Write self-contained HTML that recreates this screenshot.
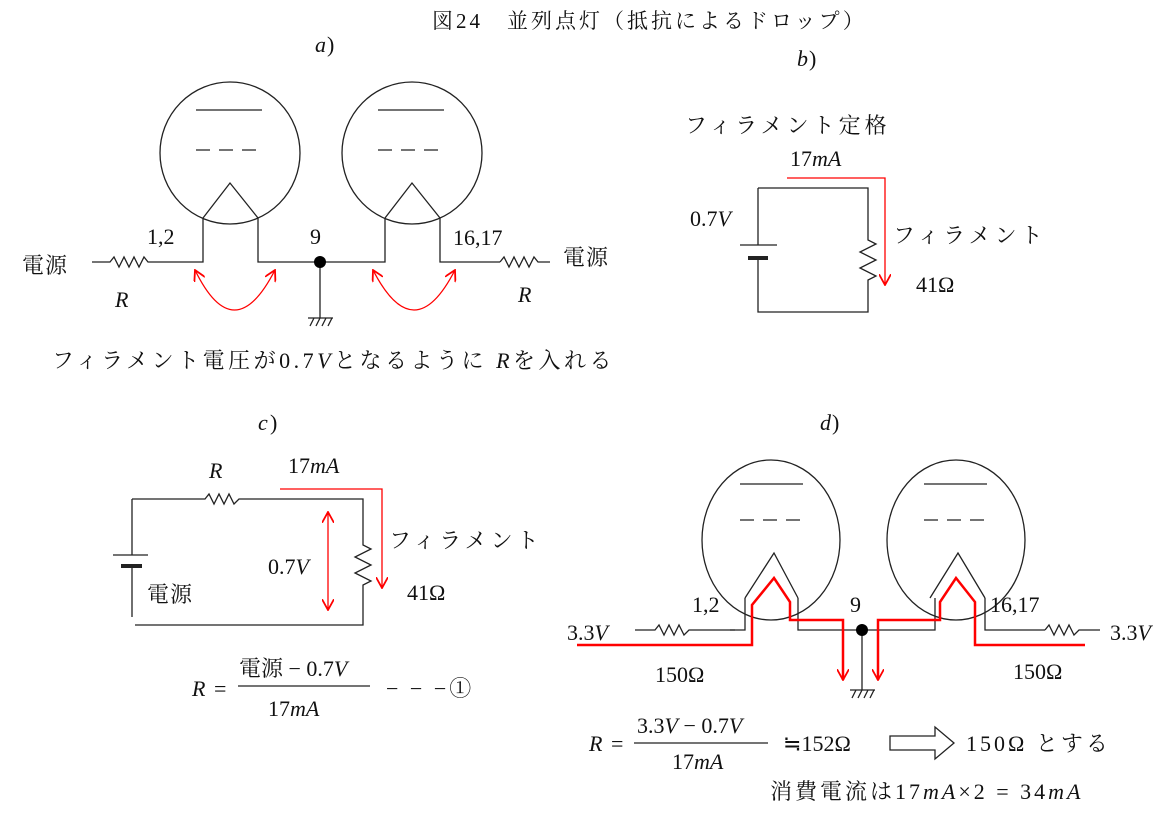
<!DOCTYPE html>
<html><head><meta charset="utf-8"><style>
html,body{margin:0;padding:0;background:#fff}
svg{display:block}
text{font-family:"Liberation Serif","Noto Serif CJK SC",serif;fill:#111}
.i{font-style:italic}
.j{font-family:"Liberation Serif","Noto Serif CJK SC",serif;letter-spacing:4px}
</style></head><body>
<svg width="1172" height="815" viewBox="0 0 1172 815" xmlns="http://www.w3.org/2000/svg">
<defs>
<marker id="ah" viewBox="0 0 10 10" refX="9" refY="5" markerWidth="12" markerHeight="12" orient="auto-start-reverse" markerUnits="userSpaceOnUse"><path d="M0,0 L9,5 L0,10" fill="none" stroke="red" stroke-width="1.5"/></marker>
</defs>
<g fill="none" stroke="#222" stroke-width="1.3">
<ellipse cx="230" cy="153" rx="70" ry="71"/>
<ellipse cx="412" cy="153" rx="70" ry="71"/>
<line x1="196" y1="110" x2="262" y2="110"/><line x1="378" y1="110" x2="444" y2="110"/>
<path d="M196,150h14M219,150h14M242,150h14M378,150h14M401,150h14M424,150h14"/>
<path d="M203,218 L230,183 L258,218"/><path d="M385,218 L412,183 L440,218"/>
<path d="M203,218V262H150M258,218V262H385V218M440,218V262H500"/>
<path d="M92,262H110l4,-5 5,10 5,-10 5,10 5,-10 5,10 5,-10 4,5H150"/>
<path d="M500,262l4,-5 5,10 5,-10 5,10 5,-10 5,10 5,-10 4,5H550"/>
<path d="M320,262V318M308,318H333M310,326l4,-8M316,326l4,-8M322,326l4,-8M328,326l4,-8"/>
<path d="M758,188H868V240l8,4-16,8 16,8-16,8 16,8-8,4V312H758V259M758,188V245M740,245H777"/>
<line x1="748" y1="258" x2="768" y2="258" stroke-width="4"/>
<path d="M132,499H205l4,-5 5,10 5,-10 5,10 5,-10 5,10 5,-5H363V545l8,4-16,8 16,8-16,8 16,8-8,4V625H135M132,499V555M113,555H148M132,566V617"/>
<line x1="121" y1="566" x2="142" y2="566" stroke-width="4"/>
<ellipse cx="771" cy="540" rx="69" ry="80"/>
<ellipse cx="956" cy="540" rx="69" ry="80"/>
<line x1="740" y1="484" x2="803" y2="484"/><line x1="924" y1="484" x2="987" y2="484"/>
<path d="M740,520h14M763,520h14M786,520h14M924,520h14M947,520h14M970,520h14"/>
<path d="M745,598 L774,553 L798,598"/><path d="M930,598 L958,553 L985,598"/>
<path d="M745,598V630H730M798,598V630H935V598M985,598V630H1045"/>
<path d="M635,630H655l4,-5 5,10 5,-10 5,10 5,-10 5,10 5,-5H735"/>
<path d="M1045,630l4,-5 5,10 5,-10 5,10 5,-10 5,10 5,-5H1100"/>
<path d="M862,630V690M850,690H875M852,698l4,-8M858,698l4,-8M864,698l4,-8M870,698l4,-8"/>
<line x1="238" y1="686" x2="370" y2="686"/>
<line x1="634" y1="743" x2="768" y2="743"/>
<path d="M890,736H935V727L954,743 935,759V750H890Z"/>
</g>
<circle cx="320" cy="262" r="6" fill="#000"/>
<circle cx="862" cy="630" r="6" fill="#000"/>
<g fill="none" stroke="red" stroke-width="1.3">
<path d="M195,270 Q234,350 275,270" marker-start="url(#ah)" marker-end="url(#ah)"/>
<path d="M373,270 Q414,350 455,270" marker-start="url(#ah)" marker-end="url(#ah)"/>
<path d="M787,178H885V285" marker-end="url(#ah)"/>
<path d="M280,489H382V588" marker-end="url(#ah)"/>
<path d="M328,512V610" marker-start="url(#ah)" marker-end="url(#ah)"/>
</g>
<g fill="none" stroke="red" stroke-width="2.5">
<path d="M577,645H752V605L774,578 790,602V620H843V680" marker-end="url(#ah)"/>
<path d="M878,680V620H940V602L956,578 975,602V645H1085" marker-start="url(#ah)"/>
</g>
<g font-size="22">
<text x="432" y="28" class="j" font-size="21" style="letter-spacing:3px">図24　並列点灯（抵抗によるドロップ）</text>
<text x="315" y="52" class="i">a</text><text x="327" y="52">)</text>
<text x="797" y="66" class="i">b</text><text x="809" y="66">)</text>
<text x="258" y="430" class="i">c</text><text x="270" y="430">)</text>
<text x="820" y="430" class="i">d</text><text x="832" y="430">)</text>
<text x="22" y="273" class="j" style="letter-spacing:1px">電源</text>
<text x="147" y="244">1,2</text>
<text x="310" y="244">9</text>
<text x="453" y="245">16,17</text>
<text x="563" y="265" class="j" style="letter-spacing:1px">電源</text>
<text x="115" y="307" class="i">R</text>
<text x="518" y="302" class="i">R</text>
<text x="52" y="368" class="j" style="letter-spacing:3.5px">フィラメント電圧が0.7<tspan class="i">V</tspan>となるように <tspan class="i">R</tspan>を入れる</text>
<text x="685" y="133" class="j">フィラメント定格</text>
<text x="790" y="166">17<tspan class="i">mA</tspan></text>
<text x="690" y="226">0.7<tspan class="i">V</tspan></text>
<text x="893" y="243" class="j">フィラメント</text>
<text x="916" y="292">41Ω</text>
<text x="209" y="478" class="i">R</text>
<text x="288" y="473">17<tspan class="i">mA</tspan></text>
<text x="268" y="574">0.7<tspan class="i">V</tspan></text>
<text x="389" y="548" class="j">フィラメント</text>
<text x="407" y="600">41Ω</text>
<text x="147" y="602" class="j" style="letter-spacing:1px">電源</text>
<text x="192" y="696" class="i">R</text><text x="214" y="696">=</text>
<text x="239" y="676">電源 − 0.7<tspan class="i">V</tspan></text>
<text x="268" y="716">17<tspan class="i">mA</tspan></text>
<text x="386" y="696" style="letter-spacing:3px">− − −①</text>
<text x="692" y="612">1,2</text>
<text x="850" y="612">9</text>
<text x="990" y="612">16,17</text>
<text x="567" y="640">3.3<tspan class="i">V</tspan></text>
<text x="1110" y="640">3.3<tspan class="i">V</tspan></text>
<text x="655" y="682">150Ω</text>
<text x="1013" y="679">150Ω</text>
<text x="589" y="751" class="i">R</text><text x="611" y="751">=</text>
<text x="637" y="733">3.3<tspan class="i">V</tspan> − 0.7<tspan class="i">V</tspan></text>
<text x="672" y="769">17<tspan class="i">mA</tspan></text>
<text x="783" y="751">≒152Ω</text>
<text x="966" y="751" class="j" style="letter-spacing:3px">150Ω とする</text>
<text x="770" y="799" class="j" style="letter-spacing:3px">消費電流は17<tspan class="i">mA</tspan>×2 = 34<tspan class="i">mA</tspan></text>
</g>
</svg>
</body></html>
